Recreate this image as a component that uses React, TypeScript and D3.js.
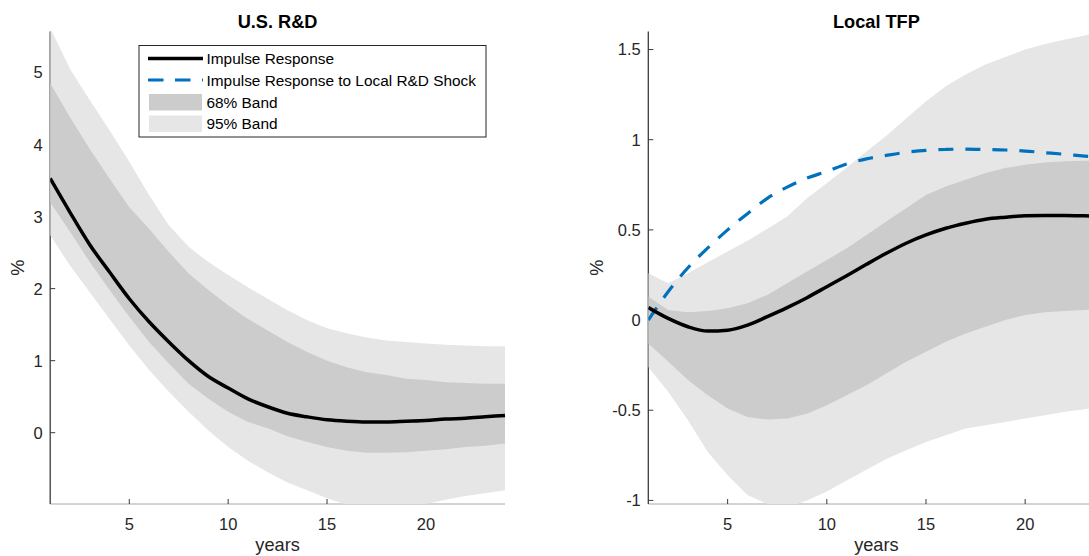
import React from "react";
import * as d3 from "d3";

// horizon (years)
const years = [1, 2, 3, 4, 5, 6, 7, 8, 9, 10, 11, 12, 13, 14, 15, 16, 17, 18, 19, 20, 21, 22, 23, 24];

// U.S. R&D panel
const rdIrf = [3.53, 3.06, 2.61, 2.23, 1.86, 1.54, 1.26, 1.0, 0.78, 0.62, 0.47, 0.36, 0.27, 0.22, 0.18, 0.16, 0.15, 0.15, 0.16, 0.17, 0.19, 0.2, 0.22, 0.24];
const rdUp68 = [4.85, 4.38, 3.94, 3.53, 3.13, 2.83, 2.51, 2.21, 1.98, 1.77, 1.58, 1.42, 1.26, 1.12, 1.0, 0.91, 0.84, 0.8, 0.75, 0.73, 0.7, 0.69, 0.68, 0.68];
const rdLo68 = [3.2, 2.79, 2.37, 1.98, 1.61, 1.26, 0.96, 0.68, 0.47, 0.29, 0.15, 0.06, -0.05, -0.13, -0.2, -0.25, -0.28, -0.28, -0.27, -0.25, -0.23, -0.2, -0.18, -0.15];
const rdUp95 = [5.62, 5.05, 4.62, 4.2, 3.76, 3.3, 2.88, 2.58, 2.37, 2.19, 2.02, 1.86, 1.7, 1.56, 1.45, 1.38, 1.32, 1.28, 1.26, 1.24, 1.22, 1.21, 1.2, 1.2];
const rdLo95 = [2.74, 2.32, 1.95, 1.58, 1.21, 0.87, 0.57, 0.29, 0.03, -0.2, -0.39, -0.55, -0.69, -0.8, -0.91, -1.0, -1.06, -1.08, -1.05, -0.99, -0.93, -0.88, -0.84, -0.8];

// Local TFP panel
const tfpIrf = [0.069, 0.009, -0.037, -0.061, -0.056, -0.028, 0.019, 0.069, 0.124, 0.185, 0.246, 0.309, 0.37, 0.426, 0.472, 0.509, 0.537, 0.559, 0.57, 0.578, 0.58, 0.58, 0.578, 0.575];
const tfpLocal = [0.0, 0.157, 0.29, 0.4, 0.5, 0.59, 0.675, 0.737, 0.787, 0.824, 0.865, 0.894, 0.913, 0.93, 0.941, 0.946, 0.948, 0.946, 0.943, 0.937, 0.928, 0.919, 0.909, 0.9];
const tfpUp68 = [0.13, 0.056, 0.043, 0.05, 0.065, 0.093, 0.139, 0.204, 0.269, 0.333, 0.398, 0.472, 0.546, 0.62, 0.694, 0.741, 0.778, 0.815, 0.843, 0.861, 0.874, 0.88, 0.883, 0.885];
const tfpLo68 = [-0.13, -0.23, -0.333, -0.417, -0.49, -0.537, -0.552, -0.546, -0.519, -0.472, -0.417, -0.361, -0.296, -0.231, -0.176, -0.12, -0.074, -0.037, 0, 0.028, 0.043, 0.05, 0.056, 0.06];
const tfpUp95 = [0.259, 0.204, 0.259, 0.32, 0.38, 0.44, 0.506, 0.574, 0.676, 0.759, 0.846, 0.935, 1.022, 1.117, 1.213, 1.296, 1.361, 1.417, 1.459, 1.5, 1.531, 1.556, 1.578, 1.6];
const tfpLo95 = [-0.26, -0.398, -0.556, -0.731, -0.861, -0.97, -1.02, -1.04, -1.0, -0.95, -0.89, -0.83, -0.77, -0.722, -0.676, -0.639, -0.602, -0.583, -0.565, -0.546, -0.528, -0.509, -0.494, -0.48];

const legendLabels = ["Impulse Response", "Impulse Response to Local R&D Shock", "68% Band", "95% Band"];

const FONT = "'Liberation Sans', Arial, Helvetica, sans-serif";
const TXT = "#262626";
const BAND68 = "#cccccc";
const BAND95 = "#e6e6e6";
const BLUE = "#0072bd";

const TOP = 31.5;
const BOTTOM = 504;

type PanelProps = {
  id: string;
  title: string;
  left: number;
  right: number;
  yDomain: [number, number];
  yLabelX: number;
  irf: number[];
  up68: number[];
  lo68: number[];
  up95: number[];
  lo95: number[];
  local?: number[];
};

const Panel: React.FC<PanelProps> = (p) => {
  const x = d3.scaleLinear().domain([1, 24]).range([p.left, p.right]);
  const y = d3.scaleLinear().domain(p.yDomain).range([BOTTOM, TOP]);

  const band = (lo: number[], hi: number[]) =>
    d3.area<number>()
      .x((d) => x(d))
      .y0((_, i) => y(lo[i]))
      .y1((_, i) => y(hi[i]))(years)!;
  const line = (vals: number[]) =>
    d3.line<number>()
      .x((d) => x(d))
      .y((_, i) => y(vals[i]))
      .curve(d3.curveMonotoneX)(years)!;

  const yTicks = y.ticks(6);
  const xTicks = x.ticks(5);
  const cx = (p.left + p.right) / 2;

  return (
    <g>
      <defs>
        <clipPath id={p.id}>
          <rect x={p.left} y={TOP} width={p.right - p.left + 2} height={BOTTOM - TOP} />
        </clipPath>
      </defs>
      <text x={cx} y={28.3} textAnchor="middle" fontWeight="bold" fontSize={18.2} fill="#000">
        {p.title}
      </text>
      {/* axes sit under the data, like matlab's default layer */}
      <line x1={p.left} x2={p.right} y1={BOTTOM} y2={BOTTOM} stroke="#a8a8a8" strokeWidth={1} />
      <line x1={p.left} x2={p.left} y1={TOP} y2={BOTTOM} stroke="#3a3a3a" strokeWidth={1.3} />
      {yTicks.map((t) => (
        <g key={"y" + t}>
          <line x1={p.left} x2={p.left + 5} y1={y(t)} y2={y(t)} stroke="#3a3a3a" strokeWidth={1} />
          <text x={p.left - 7.5} y={y(t)} dy="0.36em" textAnchor="end" fontSize={16.5} fill={TXT}>
            {String(t)}
          </text>
        </g>
      ))}
      {xTicks.map((t) => (
        <g key={"x" + t}>
          <line x1={x(t)} x2={x(t)} y1={BOTTOM} y2={BOTTOM - 5} stroke="#3a3a3a" strokeWidth={1} />
          <text x={x(t)} y={529.5} textAnchor="middle" fontSize={16.5} fill={TXT}>
            {String(t)}
          </text>
        </g>
      ))}
      <g clipPath={`url(#${p.id})`}>
        <path d={band(p.lo95, p.up95)} fill={BAND95} />
        <path d={band(p.lo68, p.up68)} fill={BAND68} />
        {p.local && (
          <path d={line(p.local)} fill="none" stroke={BLUE} strokeWidth={3.2} strokeDasharray="15 12" />
        )}
        <path d={line(p.irf)} fill="none" stroke="#000" strokeWidth={3.5} />
      </g>
      <text x={cx} y={551} textAnchor="middle" fontSize={18.2} fill={TXT}>
        years
      </text>
      <text
        transform={`translate(${p.yLabelX},${(TOP + BOTTOM) / 2}) rotate(-90)`}
        textAnchor="middle"
        fontSize={18.2}
        fill={TXT}
      >
        %
      </text>
    </g>
  );
};

const Legend: React.FC = () => {
  const bx = 139, by = 45.5, bw = 347, bh = 91.5;
  const rowY = [58.5, 80, 102, 123.5];
  return (
    <g>
      <defs>
        <clipPath id="legclip">
          <rect x={bx} y={by} width={bw - 1.5} height={bh} />
        </clipPath>
      </defs>
      <rect x={bx} y={by} width={bw} height={bh} fill="#fff" stroke="#262626" strokeWidth={1} />
      <line x1={148} x2={203} y1={rowY[0]} y2={rowY[0]} stroke="#000" strokeWidth={3.5} />
      <line x1={148} x2={203} y1={rowY[1]} y2={rowY[1]} stroke={BLUE} strokeWidth={3.2} strokeDasharray="15.5 11.5" />
      <rect x={149} y={rowY[2] - 8} width={53} height={16.5} fill={BAND68} />
      <rect x={149} y={rowY[3] - 8} width={53} height={16.5} fill={BAND95} />
      <g clipPath="url(#legclip)">
        {legendLabels.map((l, i) => (
          <text key={l} x={206.5} y={rowY[i]} dy="0.36em" fontSize={15.4} fill="#000">
            {l}
          </text>
        ))}
      </g>
    </g>
  );
};

export default function App() {
  return (
    <svg
      width={1089}
      height={556}
      style={{ position: "absolute", left: 0, top: 0, display: "block", background: "#fff" }}
      fontFamily={FONT}
    >
      <Panel
        id="clipRD"
        title="U.S. R&D"
        left={50.2}
        right={505}
        yDomain={[-0.99, 5.57]}
        yLabelX={24}
        irf={rdIrf}
        up68={rdUp68}
        lo68={rdLo68}
        up95={rdUp95}
        lo95={rdLo95}
      />
      <Panel
        id="clipTFP"
        title="Local TFP"
        left={648.3}
        right={1104.5}
        yDomain={[-1.02, 1.6]}
        yLabelX={603}
        irf={tfpIrf}
        up68={tfpUp68}
        lo68={tfpLo68}
        up95={tfpUp95}
        lo95={tfpLo95}
        local={tfpLocal}
      />
      <Legend />
    </svg>
  );
}
